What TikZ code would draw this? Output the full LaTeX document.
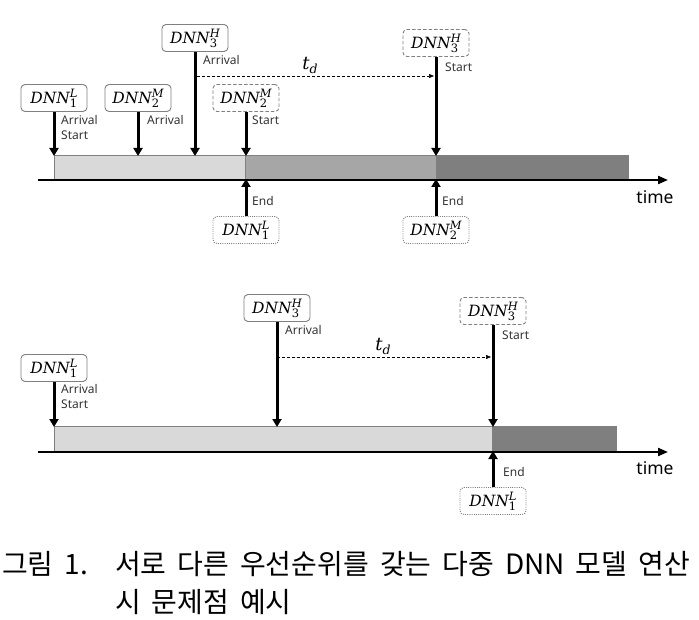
\documentclass[tikz,border=0pt]{standalone}
\usepackage{fontspec}
\setsansfont{Noto Sans}
\newfontfamily\kr{Noto Sans CJK KR}
\newfontfamily\dnnfont{DejaVu Serif}
\usetikzlibrary{arrows.meta}
\definecolor{barL}{HTML}{D9D9D9}
\definecolor{barM}{HTML}{A6A6A6}
\definecolor{barD}{HTML}{7F7F7F}
\definecolor{edge}{HTML}{808080}
\definecolor{lbltxt}{HTML}{333333}
\newcommand\subsz{\fontsize{11.5}{12}\selectfont}
\newcommand\dnnlab[2]{{\itshape DNN}\rlap{\raisebox{-3.8pt}{\subsz #1}}\raisebox{6.4pt}{\subsz\itshape #2}}
\newcommand\tdlab{{\itshape t}\raisebox{-4pt}{\fontsize{12.5}{13}\selectfont\itshape d}}
\newcommand\capfont{\kr\fontsize{28}{28}\selectfont\spaceskip=11pt\relax}
\begin{document}
\begin{tikzpicture}[x=1pt,y=-1pt,
  box/.style={draw=edge, line width=0.9pt, rounded corners=4pt, fill=white,
    minimum width=66pt, minimum height=27pt, inner sep=0pt,
    font=\dnnfont\fontsize{15.5}{16}\selectfont},
  dbox/.style={box, dash pattern=on 3.5pt off 2pt},
  obox/.style={box, dash pattern=on 1pt off 1.2pt},
  arr/.style={line width=3pt, -{Triangle[length=8pt,width=9pt]}},
  lbl/.style={anchor=north west, inner sep=0pt, align=left, text=lbltxt,
    font=\sffamily\fontsize{12}{15}\selectfont},
  bar/.style={draw=edge, line width=0.9pt},
  axis/.style={line width=2pt, -{Triangle[length=10pt,width=8pt]}},
  tdline/.style={line width=0.6pt, dash pattern=on 3pt off 2pt, -{Triangle[length=5pt,width=4pt]}},
  tdlbl/.style={inner sep=0pt, font=\dnnfont\fontsize{18}{18}\selectfont},
  timelbl/.style={inner sep=0pt, font=\sffamily\fontsize{17.5}{18}\selectfont},
  captxt/.style={anchor=base west, inner sep=0pt}]
\useasboundingbox (0,0) rectangle (699,620);

% ---------- top panel ----------
\draw[bar, fill=barL] (54,155) rectangle (245,180);
\draw[bar, fill=barM] (245,155) rectangle (436,180);
\draw[bar, fill=barD] (436,155) rectangle (628,180);
\coordinate (ta0) at (38,180);
\coordinate (ta1) at (668,180);
\draw[axis] (ta0) -- (ta1);
\node[timelbl] (ttime) at (655,197) {time};

\node[box]  (t1) at (54,98)  {\dnnlab{1}{L}};
\node[box]  (t2) at (138,98) {\dnnlab{2}{M}};
\node[box]  (t3) at (195,38) {\dnnlab{3}{H}};
\node[dbox] (t4) at (246,98) {\dnnlab{2}{M}};
\node[dbox] (t5) at (436,43) {\dnnlab{3}{H}};
\node[obox] (t6) at (246,230) {\dnnlab{1}{L}};
\node[obox] (t7) at (436,230) {\dnnlab{2}{M}};

\coordinate (c1) at (54,156);
\coordinate (c2) at (138,156);
\coordinate (c3) at (195,156);
\coordinate (c4) at (246,156);
\coordinate (c5) at (436,156);
\coordinate (e6) at (246,179);
\coordinate (e7) at (436,179);
\draw[arr] (t1) -- (c1);
\draw[arr] (t2) -- (c2);
\draw[arr] (t3) -- (c3);
\draw[arr] (t4) -- (c4);
\draw[arr] (t5) -- (c5);
\draw[arr] (t6) -- (e6);
\draw[arr] (t7) -- (e7);

\node[lbl] (l1) at (61,115) {Arrival\\Start};
\node[lbl] (l2) at (147,115) {Arrival};
\node[lbl] (l3) at (203,55) {Arrival};
\node[lbl] (l4) at (252,116) {Start};
\node[lbl] (l5) at (445,63) {Start};
\node[lbl] (l6) at (252,196) {End};
\node[lbl] (l7) at (442,196) {End};

\coordinate (d0) at (197,76);
\coordinate (d1) at (434,76);
\draw[tdline] (d0) -- (d1);
\node[tdlbl] (td1) at (310,65) {\tdlab};

% ---------- bottom panel ----------
\draw[bar, fill=barL] (54,426) rectangle (492,452);
\draw[bar, fill=barD] (492,426) rectangle (616,452);
\coordinate (ba0) at (38,452);
\coordinate (ba1) at (668,452);
\draw[axis] (ba0) -- (ba1);
\node[timelbl] (btime) at (655,468) {time};

\node[box]  (b1) at (54,368)  {\dnnlab{1}{L}};
\node[box]  (b3) at (277,308) {\dnnlab{3}{H}};
\node[dbox] (b5) at (493,311) {\dnnlab{3}{H}};
\node[obox] (b6) at (493,501) {\dnnlab{1}{L}};

\coordinate (bc1) at (54,427);
\coordinate (bc3) at (277,427);
\coordinate (bc5) at (493,427);
\coordinate (be6) at (493,451);
\draw[arr] (b1) -- (bc1);
\draw[arr] (b3) -- (bc3);
\draw[arr] (b5) -- (bc5);
\draw[arr] (b6) -- (be6);

\node[lbl] (bl1) at (61,384) {Arrival\\Start};
\node[lbl] (bl3) at (285,325) {Arrival};
\node[lbl] (bl5) at (502,331) {Start};
\node[lbl] (bl6) at (503,467) {End};

\coordinate (bd0) at (277,357);
\coordinate (bd1) at (491,357);
\draw[tdline] (bd0) -- (bd1);
\node[tdlbl] (td2) at (383,346) {\tdlab};

% ---------- caption ----------
\node[captxt] (cap0) at (2,574) {\capfont 그림 1.};
\node[captxt] (cap1) at (115,574) {\capfont 서로 다른 우선순위를 갖는 다중 DNN 모델 연산};
\node[captxt] (cap2) at (115,612) {\capfont 시 문제점 예시};
\end{tikzpicture}
\end{document}
